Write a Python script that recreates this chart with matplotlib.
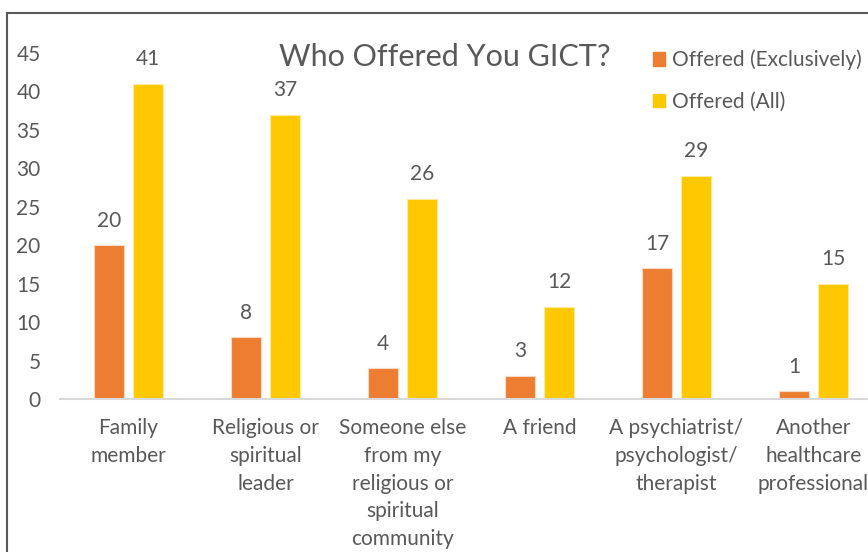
import numpy as np
import matplotlib
matplotlib.use("Agg")
import matplotlib.pyplot as plt
from matplotlib.lines import Line2D
from matplotlib.patches import Patch

# ---------- Data ----------
categories = [
    "Family\nmember",
    "Religious or\nspiritual\nleader",
    "Someone else\nfrom my\nreligious or\nspiritual\ncommunity",
    "A friend",
    "A psychiatrist/\npsychologist/\ntherapist",
    "Another\nhealthcare\nprofessional",
]
exclusive = [20, 8, 4, 3, 17, 1]
offered_all = [41, 37, 26, 12, 29, 15]
yticks = [0, 5, 10, 15, 20, 25, 30, 35, 40, 45]

ORANGE = "#ED7D31"
YELLOW = "#FFC800"
TEXT = "#595959"
FS = 15

plt.rcParams['font.family'] = ['Lato', 'DejaVu Sans']

W, H = 868, 552
fig = plt.figure(figsize=(W / 100, H / 100), dpi=100)

# axes spans past the right edge (chart is cropped in the reference)
x0, x1 = 60, 882
y0, y1 = 399, 53
ax = fig.add_axes([x0 / W, 1 - y0 / H, (x1 - x0) / W, (y0 - y1) / H])

x = np.arange(len(categories))
bw = 0.22
off = 0.142
b1 = ax.bar(x - off, exclusive, bw, color=ORANGE, edgecolor="#F8D9C4", linewidth=0.8)
b2 = ax.bar(x + off, offered_all, bw, color=YELLOW, edgecolor="#FFEBA0", linewidth=0.8)

for bars, vals in ((b1, exclusive), (b2, offered_all)):
    for b, v in zip(bars, vals):
        ax.text(b.get_x() + b.get_width() / 2, v + 1.9, str(v),
                ha="center", va="bottom", fontsize=FS, color=TEXT)

ax.set_xlim(-0.5, len(categories) - 0.5)
ax.set_ylim(0, 45)
ax.set_yticks(yticks)
ax.set_xticks(x)
ax.set_xticklabels(categories, fontsize=FS, color=TEXT, linespacing=1.48)
ax.tick_params(axis="x", length=0, pad=14)
ax.tick_params(axis="y", length=0, pad=14, labelsize=FS, labelcolor=TEXT)

for s in ("top", "right", "left"):
    ax.spines[s].set_visible(False)
ax.spines["bottom"].set_color("#D9D9D9")
ax.spines["bottom"].set_linewidth(1.5)

# title
fig.text(445 / W, 1 - 57 / H, "Who Offered You GICT?", ha="center", va="center",
         fontsize=22, color=TEXT)

# legend
handles = [Patch(color=ORANGE, label="Offered (Exclusively)"),
           Patch(color=YELLOW, label="Offered (All)")]
fig.legend(handles=handles, loc="upper left", bbox_to_anchor=(634 / W, 1 - 31 / H),
           frameon=False, fontsize=FS, labelcolor=TEXT, handlelength=0.6,
           handleheight=0.6, handletextpad=0.3, labelspacing=1.05)

# chart frame (top and left edges visible)
fig.add_artist(Line2D([7 / W, 1.0], [1 - 13 / H, 1 - 13 / H], color="#595959", lw=1.5))
fig.add_artist(Line2D([7 / W, 7 / W], [0, 1 - 13 / H], color="#595959", lw=1.5))

fig.savefig("out.png", dpi=100)
